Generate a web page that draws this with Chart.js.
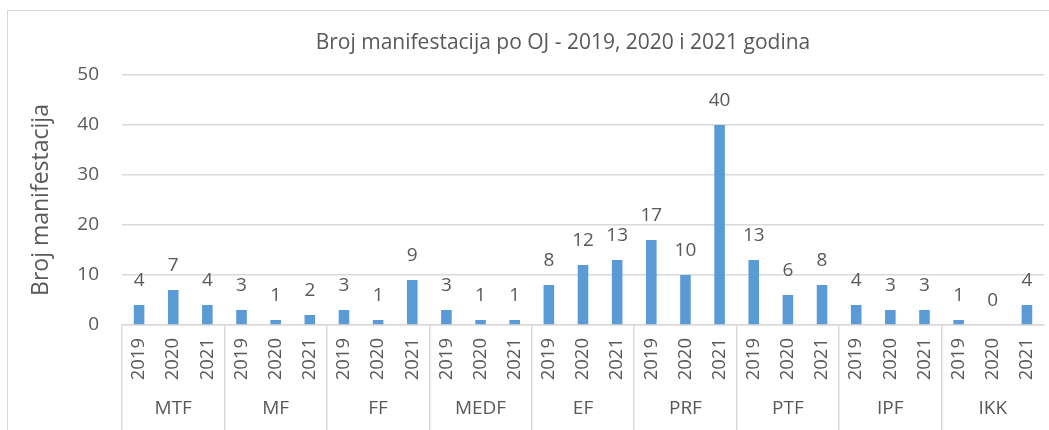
<!DOCTYPE html>
<html>
<head>
<meta charset="utf-8">
<script src="https://cdn.jsdelivr.net/npm/chart.js@4/dist/chart.umd.min.js"></script>
<style>
  html, body { margin: 0; padding: 0; background: #fff; overflow: hidden; }
  #wrap { position: relative; width: 1049px; height: 430px; overflow: hidden; }
  #frame {
    position: absolute; left: 7px; top: 10px; width: 1200px; height: 600px;
    border: 1.5px solid #d9d9d9; pointer-events: none;
  }
  #box { position: absolute; left: 8px; top: 0; width: 1110px; height: 430px; }
</style>
</head>
<body>
<div id="wrap">
  <div id="box"><canvas id="chart-oj" width="1110" height="430"></canvas></div>
  <div id="frame"></div>
</div>
<script>
/* ------------------------------
 * podaci
 * ------------------------------ */
const GROUPS = ['MTF', 'MF', 'FF', 'MEDF', 'EF', 'PRF', 'PTF', 'IPF', 'IKK'];
const YEARS = ['2019', '2020', '2021'];
const VALUES = [
  4, 7, 4,     // MTF
  3, 1, 2,     // MF
  3, 1, 9,     // FF
  3, 1, 1,     // MEDF
  8, 12, 13,   // EF
  17, 10, 40,  // PRF
  13, 6, 8,    // PTF
  4, 3, 3,     // IPF
  1, 0, 4      // IKK
];
const Y_TICKS = [0, 10, 20, 30, 40, 50];

const TEXT = '#595959';
const GRID = '#d9d9d9';
const BAR = '#5b9bd5';
const FONT = '"Open Sans", sans-serif';

// labels: jedna kategorija = godina unutar OJ
const labels = [];
GROUPS.forEach(() => YEARS.forEach(y => labels.push(y)));

/* ------------------------------
 * vrijednosti iznad stubaca
 * ------------------------------ */
const valueLabels = {
  id: 'valueLabels',
  afterDatasetsDraw(chart) {
    const ctx = chart.ctx;
    const meta = chart.getDatasetMeta(0);
    ctx.save();
    ctx.fillStyle = TEXT;
    ctx.font = '19px ' + FONT;
    ctx.textAlign = 'center';
    ctx.textBaseline = 'middle';
    meta.data.forEach((bar, i) => {
      ctx.fillText(String(VALUES[i]), bar.x, bar.y - 24);
    });
    ctx.restore();
  }
};

const ctx = document.getElementById('chart-oj');

new Chart(ctx, {
  type: 'bar',
  plugins: [valueLabels],
  data: {
    labels: labels,
    datasets: [{
      label: 'Broj manifestacija',
      data: VALUES,
      backgroundColor: BAR,
      borderWidth: 0,
      categoryPercentage: 1,
      barPercentage: 0.31
    }]
  },
  options: {
    responsive: false,
    animation: false,
    layout: { padding: 0 },
    scales: {
      x: {
        position: 'bottom',
        grid: {
          offset: true,
          drawOnChartArea: false,
          tickLength: 110,
          lineWidth: 1.5,
          // samo granice između OJ
          color: (c) => (c.index % 3 === 0 ? GRID : 'rgba(0,0,0,0)')
        },
        border: { display: true, color: GRID, width: 1.5 },
        ticks: {
          autoSkip: false,
          minRotation: 90,
          maxRotation: 90,
          padding: -97,
          color: TEXT,
          font: { family: FONT, size: 18.5 }
        },
        afterFit: (s) => { s.height = 65; }
      },
      x2: {
        type: 'category',
        position: 'bottom',
        labels: GROUPS,
        grid: { display: false },
        border: { display: false },
        ticks: {
          padding: -1,
          color: TEXT,
          font: { family: FONT, size: 19 }
        },
        afterFit: (s) => { s.height = 40; }
      },
      y: {
        min: 0,
        max: 50,
        afterBuildTicks: (s) => { s.ticks = Y_TICKS.map(v => ({ value: v })); },
        grid: { color: GRID, lineWidth: 1.5, drawTicks: false },
        border: { display: false },
        ticks: {
          padding: 23,
          color: TEXT,
          font: { family: FONT, size: 19 }
        },
        title: {
          display: true,
          text: 'Broj manifestacija',
          color: TEXT,
          font: { family: FONT, size: 23 },
          padding: { top: 20, bottom: 0 }
        },
        afterFit: (s) => { s.width = 114; }
      },
      // prazna desna osa: grafikon je u originalu odsječen s desne strane
      yRight: {
        type: 'linear',
        position: 'right',
        grid: { display: false },
        border: { display: false },
        ticks: { display: false },
        afterFit: (s) => { s.width = 74; }
      }
    },
    plugins: {
      legend: { display: false },
      tooltip: { enabled: false },
      title: {
        display: true,
        text: 'Broj manifestacija po OJ - 2019, 2020 i 2021 godina',
        color: TEXT,
        font: { family: FONT, size: 21, weight: 'normal' },
        padding: { top: 30, bottom: 19.8 }
      }
    }
  }
});
</script>
</body>
</html>
